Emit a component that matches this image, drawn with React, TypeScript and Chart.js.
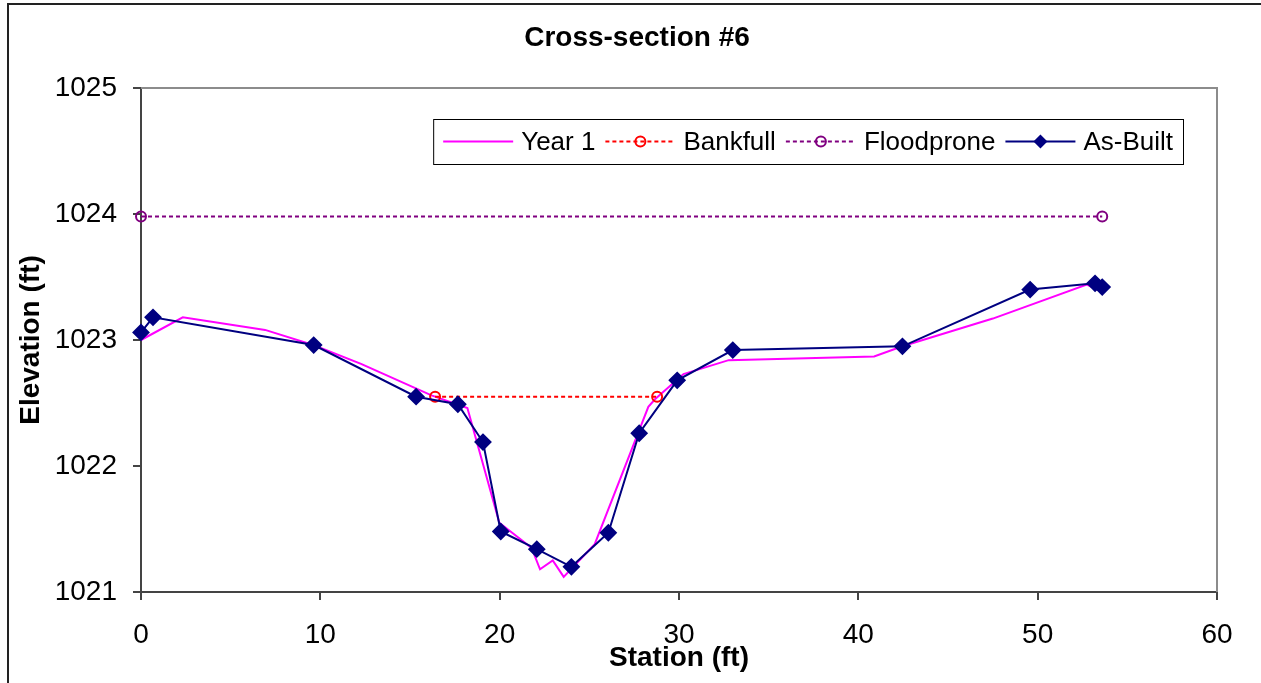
import { useEffect, useRef } from "react";
import { Chart, registerables } from "chart.js";

Chart.register(...registerables);

const FONT = "'Liberation Sans', Arial, sans-serif";

const titleText = "Cross-section #6";
const xTitle = "Station (ft)";
const yTitle = "Elevation (ft)";

const year1Station = [0, 2.33, 6.92, 9.6, 12.27, 16.2, 18.2, 19.98, 21.78, 22.25, 22.96, 23.57, 25.3, 28.29, 28.66, 30.25, 32.77, 40.88, 42.46, 47.5, 52.74, 53.6];
const year1Elev = [1023.0, 1023.18, 1023.08, 1022.96, 1022.81, 1022.56, 1022.46, 1021.55, 1021.35, 1021.18, 1021.25, 1021.12, 1021.38, 1022.47, 1022.53, 1022.73, 1022.84, 1022.87, 1022.95, 1023.17, 1023.44, 1023.38];

const asBuiltStation = [0, 0.67, 9.63, 15.34, 17.67, 19.07, 20.06, 22.07, 24.0, 26.06, 27.78, 29.9, 33.0, 42.46, 49.58, 53.2, 53.6];
const asBuiltElev = [1023.06, 1023.18, 1022.96, 1022.55, 1022.49, 1022.19, 1021.48, 1021.34, 1021.2, 1021.47, 1022.26, 1022.68, 1022.92, 1022.95, 1023.4, 1023.45, 1023.42];

const bankfullStation = [16.4, 28.78];
const bankfullElev = [1022.55, 1022.55];

const floodproneStation = [0, 53.6];
const floodproneElev = [1023.98, 1023.98];

const xMin = 0, xMax = 60, xStep = 10;
const yMin = 1021, yMax = 1025, yStep = 1;

const pts = (xs: number[], ys: number[]) => xs.map((x, i) => ({ x, y: ys[i] }));

type LegendItem = { label: string; color: string; dash: number[]; marker: "none" | "circle" | "diamond" };
const legendItems: LegendItem[] = [
  { label: "Year 1", color: "#FF00FF", dash: [], marker: "none" },
  { label: "Bankfull", color: "#FF0000", dash: [4, 3], marker: "circle" },
  { label: "Floodprone", color: "#800080", dash: [4, 3], marker: "circle" },
  { label: "As-Built", color: "#000080", dash: [], marker: "diamond" },
];

const framePlugin = {
  id: "frame",
  beforeDraw(chart: any) {
    const ctx = chart.ctx;
    ctx.save();
    ctx.fillStyle = "#fff";
    ctx.fillRect(0, 0, chart.width, chart.height);
    ctx.strokeStyle = "#222";
    ctx.lineWidth = 2;
    ctx.beginPath();
    ctx.moveTo(8, chart.height + 5);
    ctx.lineTo(8, 4);
    ctx.lineTo(chart.width + 5, 4);
    ctx.stroke();
    ctx.fillStyle = "#000";
    ctx.font = `bold 28px ${FONT}`;
    ctx.textAlign = "center";
    ctx.textBaseline = "middle";
    ctx.fillText(titleText, 637, 38);
    ctx.restore();
  },
  beforeDatasetsDraw(chart: any) {
    const { ctx, chartArea: a } = chart;
    ctx.save();
    ctx.strokeStyle = "#8c8c8c";
    ctx.lineWidth = 2;
    ctx.beginPath();
    ctx.moveTo(a.left, a.top);
    ctx.lineTo(a.right, a.top);
    ctx.lineTo(a.right, a.bottom);
    ctx.stroke();
    ctx.restore();
  },
};

const legendPlugin = {
  id: "boxLegend",
  afterDraw(chart: any) {
    const { ctx, chartArea: a } = chart;
    ctx.save();
    ctx.font = `26px ${FONT}`;
    const pad = 10, lineLen = 70, gap = 8, between = 10;
    let total = pad;
    legendItems.forEach((it, i) => {
      total += lineLen + gap + ctx.measureText(it.label).width + (i < legendItems.length - 1 ? between : pad);
    });
    const right = a.right - 34;
    const left = right - total;
    const top = a.top + 31;
    const h = 45;
    ctx.fillStyle = "#fff";
    ctx.fillRect(left, top, total, h);
    ctx.strokeStyle = "#000";
    ctx.lineWidth = 1;
    ctx.strokeRect(left + 0.5, top + 0.5, total, h);
    const cy = top + h / 2;
    let x = left + pad;
    legendItems.forEach((it) => {
      ctx.strokeStyle = it.color;
      ctx.lineWidth = 2;
      ctx.setLineDash(it.dash);
      ctx.beginPath();
      ctx.moveTo(x, cy);
      ctx.lineTo(x + lineLen, cy);
      ctx.stroke();
      ctx.setLineDash([]);
      const mx = x + lineLen / 2;
      if (it.marker === "circle") {
        ctx.beginPath();
        ctx.arc(mx, cy, 5, 0, Math.PI * 2);
        ctx.lineWidth = 2;
        ctx.stroke();
      } else if (it.marker === "diamond") {
        ctx.fillStyle = it.color;
        ctx.beginPath();
        ctx.moveTo(mx, cy - 7);
        ctx.lineTo(mx + 7, cy);
        ctx.lineTo(mx, cy + 7);
        ctx.lineTo(mx - 7, cy);
        ctx.closePath();
        ctx.fill();
      }
      x += lineLen + gap;
      ctx.fillStyle = "#000";
      ctx.textBaseline = "middle";
      ctx.textAlign = "left";
      ctx.fillText(it.label, x, cy + 1);
      x += ctx.measureText(it.label).width + between;
    });
    ctx.restore();
  },
};

export default function App() {
  const ref = useRef<HTMLCanvasElement>(null);
  useEffect(() => {
    if (!ref.current) return;
    const chart = new Chart(ref.current, {
      type: "line",
      data: {
        datasets: [
          {
            label: "As-Built",
            data: pts(asBuiltStation, asBuiltElev),
            borderColor: "#000080",
            backgroundColor: "#000080",
            borderWidth: 2,
            pointStyle: "rectRot",
            pointRadius: 7.5,
            pointHoverRadius: 7.5,
            clip: false,
            order: 0,
          },
          {
            label: "Bankfull",
            data: pts(bankfullStation, bankfullElev),
            borderColor: "#FF0000",
            backgroundColor: "rgba(0,0,0,0)",
            borderWidth: 2,
            borderDash: [4, 3],
            pointStyle: "circle",
            pointRadius: 5,
            pointBorderWidth: 2,
            clip: false,
            order: 1,
          },
          {
            label: "Floodprone",
            data: pts(floodproneStation, floodproneElev),
            borderColor: "#800080",
            backgroundColor: "rgba(0,0,0,0)",
            borderWidth: 2,
            borderDash: [4, 3],
            pointStyle: "circle",
            pointRadius: 5,
            pointBorderWidth: 2,
            clip: false,
            order: 2,
          },
          {
            label: "Year 1",
            data: pts(year1Station, year1Elev),
            borderColor: "#FF00FF",
            backgroundColor: "#FF00FF",
            borderWidth: 2,
            pointRadius: 0,
            clip: false,
            order: 3,
          },
        ],
      },
      options: {
        responsive: false,
        animation: false,
        layout: { padding: { left: 0, right: 44, top: 88, bottom: 0 } },
        plugins: {
          legend: { display: false },
          tooltip: { enabled: false },
          title: { display: false },
        },
        scales: {
          x: {
            type: "linear",
            min: xMin,
            max: xMax,
            afterFit: (s: any) => { s.height = 91; },
            ticks: { stepSize: xStep, color: "#000", font: { family: FONT, size: 28 }, padding: 18, maxRotation: 0 },
            grid: { drawOnChartArea: false, drawTicks: true, tickLength: 8, color: "#444", lineWidth: 2 },
            border: { color: "#444", width: 2 },
            title: { display: true, text: xTitle, color: "#000", font: { family: FONT, size: 28, weight: "bold" }, padding: { top: 0, bottom: 8 } },
          },
          y: {
            type: "linear",
            min: yMin,
            max: yMax,
            afterFit: (s: any) => { s.width = 141; },
            ticks: { stepSize: yStep, color: "#000", font: { family: FONT, size: 28 }, padding: 16, callback: (v: any) => String(v) },
            grid: { drawOnChartArea: false, drawTicks: true, tickLength: 8, color: "#444", lineWidth: 2 },
            border: { color: "#444", width: 2 },
            title: { display: true, text: yTitle, color: "#000", font: { family: FONT, size: 28, weight: "bold" }, padding: { top: 14, bottom: 0 } },
          },
        },
      },
      plugins: [framePlugin, legendPlugin],
    });
    return () => chart.destroy();
  }, []);
  return (
    <div style={{ position: "fixed", left: 0, top: 0, width: 1261, height: 683, background: "#fff" }}>
      <canvas ref={ref} width={1261} height={683} style={{ display: "block", width: 1261, height: 683 }} />
    </div>
  );
}
